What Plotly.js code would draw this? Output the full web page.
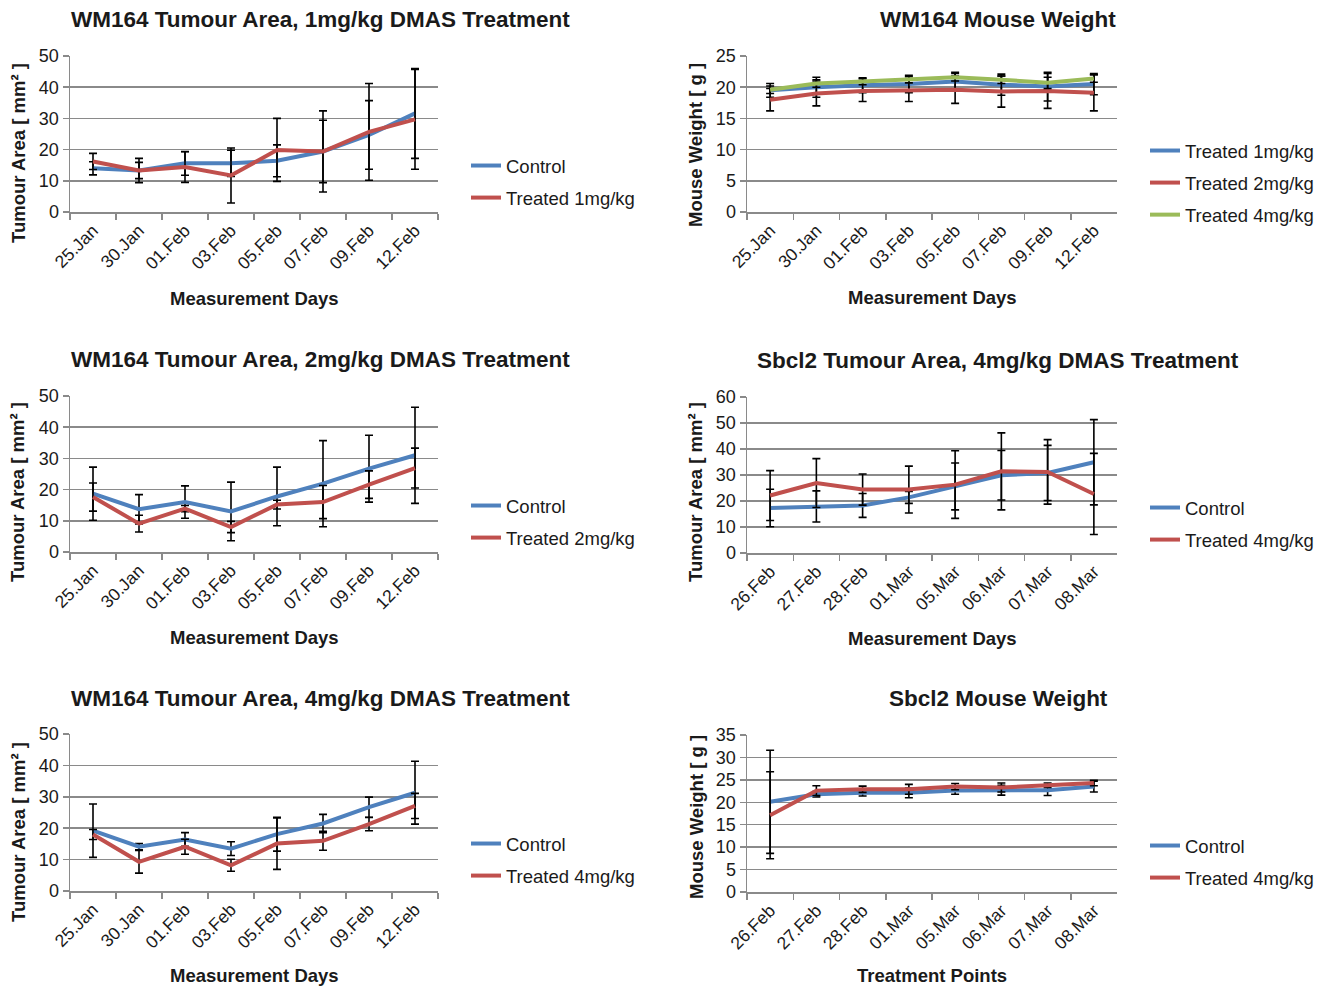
<!DOCTYPE html>
<html>
<head>
<meta charset="utf-8">
<script src="https://cdn.plot.ly/plotly-3.0.1.min.js"></script>
<style>
html,body{margin:0;padding:0;background:#fff;}
#chart{width:1332px;height:987px;}
</style>
</head>
<body>
<div id="chart"></div>
<script>
// ---------- DATA ----------
const daysWM = ["25.Jan","30.Jan","01.Feb","03.Feb","05.Feb","07.Feb","09.Feb","12.Feb"];
const daysSb = ["26.Feb","27.Feb","28.Feb","01.Mar","05.Mar","06.Mar","07.Mar","08.Mar"];

// WM164 Tumour Area, 1mg/kg
const wm1Control    = [14.0, 13.3, 15.6, 15.6, 16.4, 19.4, 24.7, 31.6];
const wm1ControlErr = [2.1, 3.9, 3.8, 4.2, 5.1, 10.0, 11.0, 14.4];
const wm1Treated    = [16.2, 13.3, 14.4, 11.7, 19.9, 19.4, 25.7, 29.7];
const wm1TreatedErr = [2.6, 2.6, 4.9, 8.8, 10.1, 13.0, 15.5, 16.0];

// WM164 Mouse Weight
const wmW1    = [19.5, 20.0, 20.3, 20.5, 20.9, 20.4, 20.1, 20.5];
const wmW1Err = [1.1, 1.6, 1.2, 1.4, 1.5, 1.7, 2.3, 1.7];
const wmW2    = [18.0, 19.0, 19.4, 19.5, 19.6, 19.3, 19.4, 19.1];
const wmW2Err = [1.8, 2.0, 1.7, 1.8, 2.2, 2.5, 2.8, 2.9];
const wmW4    = [19.6, 20.6, 20.9, 21.2, 21.6, 21.2, 20.7, 21.4];
const wmW4Err = [0.6, 0.6, 0.5, 0.5, 0.6, 0.6, 0.9, 0.6];

// WM164 Tumour Area, 2mg/kg
const wm2Control    = [18.7, 13.7, 16.0, 13.0, 17.8, 21.9, 26.7, 31.0];
const wm2ControlErr = [8.5, 4.7, 5.2, 9.4, 9.4, 13.8, 10.7, 15.4];
const wm2Treated    = [17.6, 9.1, 13.9, 8.0, 15.2, 16.0, 21.6, 26.9];
const wm2TreatedErr = [4.5, 2.7, 1.0, 1.8, 1.4, 5.3, 4.4, 6.4];

// Sbcl2 Tumour Area, 4mg/kg
const sbControl    = [17.3, 17.9, 18.3, 21.4, 25.6, 29.9, 30.8, 34.9];
const sbControlErr = [7.2, 6.0, 4.6, 2.3, 9.0, 9.5, 10.6, 16.4];
const sbTreated    = [22.1, 26.9, 24.4, 24.4, 26.3, 31.4, 31.2, 22.7];
const sbTreatedErr = [9.6, 9.4, 6.0, 9.0, 13.0, 14.8, 12.4, 15.6];

// WM164 Tumour Area, 4mg/kg
const wm4Control    = [19.2, 14.1, 16.4, 13.5, 18.1, 21.5, 26.7, 31.3];
const wm4ControlErr = [8.5, 1.0, 2.2, 2.2, 5.4, 2.9, 3.2, 10.0];
const wm4Treated    = [18.0, 9.3, 14.1, 8.2, 15.1, 16.0, 21.3, 27.1];
const wm4TreatedErr = [1.6, 3.6, 2.4, 1.9, 8.2, 3.0, 2.1, 4.0];

// Sbcl2 Mouse Weight
const sbWControl    = [20.1, 21.8, 22.1, 22.1, 22.6, 22.7, 22.7, 23.5];
const sbWControlErr = [11.5, 0.6, 0.7, 1.1, 0.8, 1.1, 1.2, 1.2];
const sbWTreated    = [17.1, 22.6, 22.9, 22.9, 23.5, 23.3, 23.8, 24.3];
const sbWTreatedErr = [9.7, 1.1, 0.7, 1.1, 0.7, 1.0, 0.5, 0.6];

// ---------- STYLE / LAYOUT ----------
const W = 1332, H = 987;
const FONT = "Liberation Sans, Arial, sans-serif";
const BLUE = "#4F81BD", RED = "#C0504D", GREEN = "#9BBB59";
const GRID = "#8a8a8a";
const TXT = "#1a1a1a";
const px = x => x / W;
const py = y => 1 - y / H;

function line(x, y, err, name, color, xa, ya, lg) {
  return {
    type: "scatter", mode: "lines", x: x, y: y, name: name,
    xaxis: xa, yaxis: ya, legend: lg, legendgroup: lg + name,
    line: {color: color, width: 4},
    error_y: {type: "data", array: err, visible: true, color: "#000", thickness: 1.6, width: 4},
    hoverinfo: "skip"
  };
}

const data = [
  line(daysWM, wm1Control, wm1ControlErr, "Control", BLUE, "x", "y", "legend"),
  line(daysWM, wm1Treated, wm1TreatedErr, "Treated 1mg/kg", RED, "x", "y", "legend"),
  line(daysWM, wmW1, wmW1Err, "Treated 1mg/kg", BLUE, "x2", "y2", "legend2"),
  line(daysWM, wmW2, wmW2Err, "Treated 2mg/kg", RED, "x2", "y2", "legend2"),
  line(daysWM, wmW4, wmW4Err, "Treated 4mg/kg", GREEN, "x2", "y2", "legend2"),
  line(daysWM, wm2Control, wm2ControlErr, "Control", BLUE, "x3", "y3", "legend3"),
  line(daysWM, wm2Treated, wm2TreatedErr, "Treated 2mg/kg", RED, "x3", "y3", "legend3"),
  line(daysSb, sbControl, sbControlErr, "Control", BLUE, "x4", "y4", "legend4"),
  line(daysSb, sbTreated, sbTreatedErr, "Treated 4mg/kg", RED, "x4", "y4", "legend4"),
  line(daysWM, wm4Control, wm4ControlErr, "Control", BLUE, "x5", "y5", "legend5"),
  line(daysWM, wm4Treated, wm4TreatedErr, "Treated 4mg/kg", RED, "x5", "y5", "legend5"),
  line(daysSb, sbWControl, sbWControlErr, "Control", BLUE, "x6", "y6", "legend6"),
  line(daysSb, sbWTreated, sbWTreatedErr, "Treated 4mg/kg", RED, "x6", "y6", "legend6")
];

// panel geometry in pixels: [left, right, top, bottom]
const panels = [
  [70, 438, 56, 212],
  [747, 1117, 56, 212],
  [70, 438, 396, 552],
  [747, 1117, 397, 553],
  [70, 438, 734, 891],
  [747, 1117, 735, 892]
];
const yRanges = [[0,50,10],[0,25,5],[0,50,10],[0,60,10],[0,50,10],[0,35,5]];

const layout = {
  width: W, height: H,
  margin: {l: 0, r: 0, t: 0, b: 0},
  paper_bgcolor: "#fff", plot_bgcolor: "#fff",
  font: {family: FONT, color: TXT, size: 16},
  showlegend: true,
  annotations: [],
};

panels.forEach((p, i) => {
  const n = i === 0 ? "" : String(i + 1);
  layout["xaxis" + n] = {
    domain: [px(p[0]), px(p[1])], anchor: "y" + n,
    type: "category", range: [-0.5, 7.5],
    tickson: "boundaries", ticks: "outside", ticklen: 6, tickwidth: 1.5, tickcolor: GRID,
    showline: true, linecolor: GRID, linewidth: 1.5, showgrid: false,
    tickangle: -45, tickfont: {size: 17.5, family: FONT, color: TXT},
    fixedrange: true
  };
  const r = yRanges[i];
  layout["yaxis" + n] = {
    domain: [py(p[3]), py(p[2])], anchor: "x" + n,
    range: [r[0], r[1]], dtick: r[2], tick0: 0,
    ticks: "outside", ticklen: 6, tickwidth: 1.5, tickcolor: GRID,
    showline: true, linecolor: GRID, linewidth: 1.5,
    showgrid: true, gridcolor: GRID, gridwidth: 1.5, zeroline: false,
    tickfont: {size: 18, family: FONT, color: TXT},
    fixedrange: true
  };
});

// legends
const legendPos = [[466, 147], [1145, 132], [466, 487], [1145, 489], [466, 825], [1145, 827]];
legendPos.forEach((lp, i) => {
  const key = i === 0 ? "legend" : "legend" + (i + 1);
  layout[key] = {
    x: px(lp[0]), y: py(lp[1]), xanchor: "left", yanchor: "top",
    bgcolor: "rgba(0,0,0,0)", borderwidth: 0,
    font: {size: 18.5, family: FONT, color: TXT},
    traceorder: "grouped", tracegroupgap: 5, itemclick: false, itemdoubleclick: false
  };
});

// titles and axis titles
const titles = [
  ["WM164 Tumour Area, 1mg/kg DMAS Treatment", 320, 20],
  ["WM164 Mouse Weight", 998, 20],
  ["WM164 Tumour Area, 2mg/kg DMAS Treatment", 320, 359],
  ["Sbcl2 Tumour Area, 4mg/kg DMAS Treatment", 998, 360],
  ["WM164 Tumour Area, 4mg/kg DMAS Treatment", 320, 698],
  ["Sbcl2 Mouse Weight", 998, 698]
];
const xTitles = [
  ["Measurement Days", 254, 298],
  ["Measurement Days", 932, 297],
  ["Measurement Days", 254, 637],
  ["Measurement Days", 932, 638],
  ["Measurement Days", 254, 975],
  ["Treatment Points", 932, 975]
];
const yTitles = [
  ["Tumour Area [ mm² ]", 18, 153],
  ["Mouse Weight [ g ]", 696, 145],
  ["Tumour Area [ mm² ]", 18, 492],
  ["Tumour Area [ mm² ]", 696, 492],
  ["Tumour Area [ mm² ]", 18, 832],
  ["Mouse Weight [ g ]", 696, 817]
];
titles.forEach(t => layout.annotations.push({
  text: "<b>" + t[0] + "</b>", x: px(t[1]), y: py(t[2]), xref: "paper", yref: "paper",
  xanchor: "center", yanchor: "middle", showarrow: false,
  font: {size: 22.5, family: FONT, color: TXT}
}));
xTitles.forEach(t => layout.annotations.push({
  text: "<b>" + t[0] + "</b>", x: px(t[1]), y: py(t[2]), xref: "paper", yref: "paper",
  xanchor: "center", yanchor: "middle", showarrow: false,
  font: {size: 18.5, family: FONT, color: TXT}
}));
yTitles.forEach(t => layout.annotations.push({
  text: "<b>" + t[0] + "</b>", x: px(t[1]), y: py(t[2]), xref: "paper", yref: "paper",
  xanchor: "center", yanchor: "middle", showarrow: false, textangle: -90,
  font: {size: 18.5, family: FONT, color: TXT}
}));

Plotly.newPlot("chart", data, layout, {staticPlot: true, displayModeBar: false});
</script>
</body>
</html>
